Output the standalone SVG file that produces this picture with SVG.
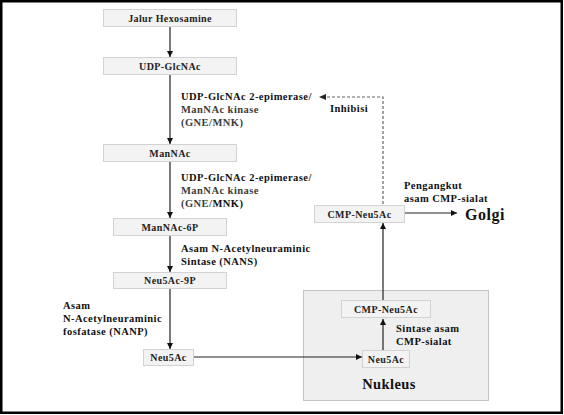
<svg xmlns="http://www.w3.org/2000/svg" width="564" height="415" viewBox="0 0 564 415">
<style>
.box{fill:#f3f3f3;stroke:#d2d2d2;stroke-width:1}
.nuc{fill:#efefef;stroke:#c4c4c4;stroke-width:1}
.bt{font-family:"Liberation Serif","Times New Roman",serif;font-weight:bold;font-size:10px;letter-spacing:0.4px;fill:#222;text-anchor:middle}
.lb{font-family:"Liberation Serif","Times New Roman",serif;font-weight:bold;font-size:10.5px;letter-spacing:0.45px;fill:#111}
.lt{fill:#3c3c3c}
.big{font-family:"Liberation Serif","Times New Roman",serif;font-weight:bold;fill:#111}
.ln{stroke:#222;stroke-width:1.2;fill:none}
.dash{stroke:#666;stroke-width:1.2;fill:none;stroke-dasharray:3 2}
</style>
<defs>
<marker id="ah" viewBox="0 0 10 10" refX="10" refY="5" markerWidth="6" markerHeight="6" markerUnits="userSpaceOnUse" orient="auto">
<path d="M0,0 L10,5 L0,10 z" fill="#111"/>
</marker>
</defs>
<rect x="0" y="0" width="564" height="415" fill="#fff"/>
<rect x="1.25" y="1.25" width="560.5" height="411.5" fill="none" stroke="#000" stroke-width="2.5"/>

<g id="nucleus">
<rect class="nuc" x="303.5" y="290.5" width="185" height="110"/>
<text class="big" x="389" y="389" font-size="14.5" text-anchor="middle" letter-spacing="0.4">Nukleus</text>
</g>

<g id="connectors">
<line class="ln" x1="170" y1="27" x2="170" y2="57" marker-end="url(#ah)"/>
<line class="ln" x1="170" y1="75" x2="170" y2="144" marker-end="url(#ah)"/>
<line class="ln" x1="170" y1="162" x2="170" y2="218" marker-end="url(#ah)"/>
<line class="ln" x1="170" y1="236" x2="170" y2="272" marker-end="url(#ah)"/>
<line class="ln" x1="170" y1="289" x2="170" y2="349" marker-end="url(#ah)"/>
<line class="ln" x1="194" y1="357" x2="362" y2="357" marker-end="url(#ah)"/>
<line class="ln" x1="383" y1="350" x2="383" y2="319" marker-end="url(#ah)"/>
<line class="ln" x1="383" y1="300" x2="383" y2="223" marker-end="url(#ah)"/>
<line class="ln" x1="405" y1="213" x2="457" y2="213" marker-end="url(#ah)"/>
<path class="dash" d="M383,204 V97 H321"/>
<path d="M319,97 L326,94 L326,100 z" fill="#222"/>
</g>

<g id="n-jalur">
<rect class="box" x="103.5" y="9.5" width="133" height="17"/>
<text class="bt" x="170" y="21.5">Jalur Hexosamine</text>
</g>
<g id="n-udp">
<rect class="box" x="103.5" y="57.5" width="133" height="17"/>
<text class="bt" x="170" y="69.5">UDP-GlcNAc</text>
</g>
<g id="n-mannac">
<rect class="box" x="103.5" y="144.5" width="133" height="17"/>
<text class="bt" x="170" y="156.5">ManNAc</text>
</g>
<g id="n-mannac6p">
<rect class="box" x="113.5" y="218.5" width="113" height="17"/>
<text class="bt" x="170" y="230.5">ManNAc-6P</text>
</g>
<g id="n-neu5ac9p">
<rect class="box" x="113.5" y="272.5" width="113" height="16"/>
<text class="bt" x="170" y="284">Neu5Ac-9P</text>
</g>
<g id="n-neu5ac">
<rect class="box" x="143.5" y="349.5" width="50" height="16"/>
<text class="bt" x="168.5" y="361">Neu5Ac</text>
</g>
<g id="n-neu5ac-nuc">
<rect class="box" x="362.5" y="350.5" width="47" height="17"/>
<text class="bt" x="386" y="362.5">Neu5Ac</text>
</g>
<g id="n-cmp-nuc">
<rect class="box" x="341.5" y="300.5" width="89" height="17"/>
<text class="bt" x="386" y="312.5">CMP-Neu5Ac</text>
</g>
<g id="n-cmp">
<rect class="box" x="314.5" y="205.5" width="90" height="17"/>
<text class="bt" x="359.5" y="217.5">CMP-Neu5Ac</text>
</g>
<g id="n-golgi">
<text class="big" x="465" y="220" font-size="16" letter-spacing="0.5">Golgi</text>
</g>

<g id="labels">
<text class="lb" x="181" y="100">UDP-GlcNAc 2-epimerase/</text>
<text class="lb lt" x="181" y="113">ManNAc kinase</text>
<text class="lb lt" x="181" y="126">(GNE/MNK)</text>
<text class="lb" x="181" y="181">UDP-GlcNAc 2-epimerase/</text>
<text class="lb lt" x="181" y="194">ManNAc kinase</text>
<text class="lb" x="181" y="207"><tspan class="lt">(GNE/</tspan>MNK)</text>
<text class="lb" x="181" y="252">Asam N-Acetylneuraminic</text>
<text class="lb" x="181" y="265">Sintase (NANS)</text>
<text class="lb" x="63" y="309">Asam</text>
<text class="lb" x="63" y="322">N-Acetylneuraminic</text>
<text class="lb" x="63" y="335">fosfatase (NANP)</text>
<text class="lb" x="330" y="112">Inhibisi</text>
<text class="lb" x="404" y="189">Pengangkut</text>
<text class="lb" x="404" y="202">asam CMP-sialat</text>
<text class="lb" x="396" y="332">Sintase asam</text>
<text class="lb" x="396" y="345">CMP-sialat</text>
</g>
</svg>
